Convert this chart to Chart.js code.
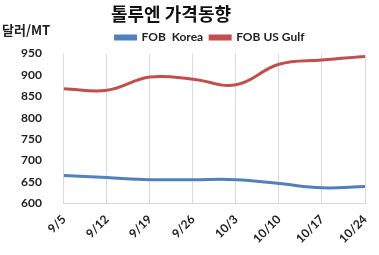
<!DOCTYPE html>
<html>
<head>
<meta charset="utf-8">
<script src="https://cdn.jsdelivr.net/npm/chart.js@4"></script>
<style>
  html, body { margin: 0; padding: 0; background: #fff; }
</style>
</head>
<body>
<canvas id="c" width="379" height="255"></canvas>
<script>
const dates = ["9/5", "9/12", "9/19", "9/26", "10/3", "10/10", "10/17", "10/24"];
const fobKorea = [665, 660, 655, 655, 655, 646, 636, 639];
const fobUsGulf = [868, 864, 895, 890, 877, 925, 935, 943];
const yTicks = [600, 650, 700, 750, 800, 850, 900, 950];

const numFont = "Lato, 'Liberation Sans', sans-serif";
const krFont = "'Noto Sans CJK KR', sans-serif";

// 제목/범례 위치 보정 + 단위 텍스트
const tweaks = {
  id: "tweaks",
  afterLayout(chart) {
    chart.titleBlock.left -= 15;
    chart.titleBlock.right -= 15;
    chart.legend.left += 24;
    chart.legend.right += 24;
  },
  afterDraw(chart) {
    const ctx = chart.ctx;
    ctx.save();
    ctx.font = "bold 13px " + krFont;
    ctx.fillStyle = "#222";
    ctx.textAlign = "left";
    ctx.textBaseline = "middle";
    ctx.fillText("달러/MT", 2, 30);
    ctx.restore();
  }
};

new Chart(document.getElementById("c"), {
  type: "line",
  data: {
    labels: dates,
    datasets: [
      {
        label: "FOB  Korea",
        data: fobKorea,
        borderColor: "#4F81BD",
        backgroundColor: "#4F81BD",
        borderWidth: 3,
        pointRadius: 0,
        tension: 0.4
      },
      {
        label: "FOB US Gulf",
        data: fobUsGulf,
        borderColor: "#C0504D",
        backgroundColor: "#C0504D",
        borderWidth: 3,
        pointRadius: 0,
        tension: 0.4
      }
    ]
  },
  options: {
    responsive: false,
    animation: false,
    layout: { padding: { left: 7, right: 14, top: 0, bottom: 0 } },
    plugins: {
      title: {
        display: true,
        text: "톨루엔 가격동향",
        color: "#111",
        font: { family: krFont, size: 18, weight: "bold" },
        padding: { top: 3, bottom: 0 }
      },
      legend: {
        labels: {
          boxWidth: 20,
          boxHeight: 3,
          color: "#222",
          padding: 7,
          font: { family: numFont, size: 12, weight: "bold" }
        }
      },
      tooltip: { enabled: false }
    },
    scales: {
      y: {
        min: 600,
        max: 950,
        afterBuildTicks: axis => { axis.ticks = yTicks.map(v => ({ value: v })); },
        grid: { display: false },
        border: { display: false },
        ticks: {
          color: "#222",
          padding: 14,
          font: { family: numFont, size: 12, weight: "bold" }
        }
      },
      x: {
        afterFit: axis => { axis.paddingRight = 0; },
        grid: { color: "#d9d9d9", drawTicks: false },
        border: { color: "#d9d9d9" },
        ticks: {
          color: "#222",
          minRotation: 45,
          maxRotation: 45,
          padding: 9,
          font: { family: numFont, size: 12, weight: "bold" }
        }
      }
    }
  },
  plugins: [tweaks]
});
</script>
</body>
</html>
